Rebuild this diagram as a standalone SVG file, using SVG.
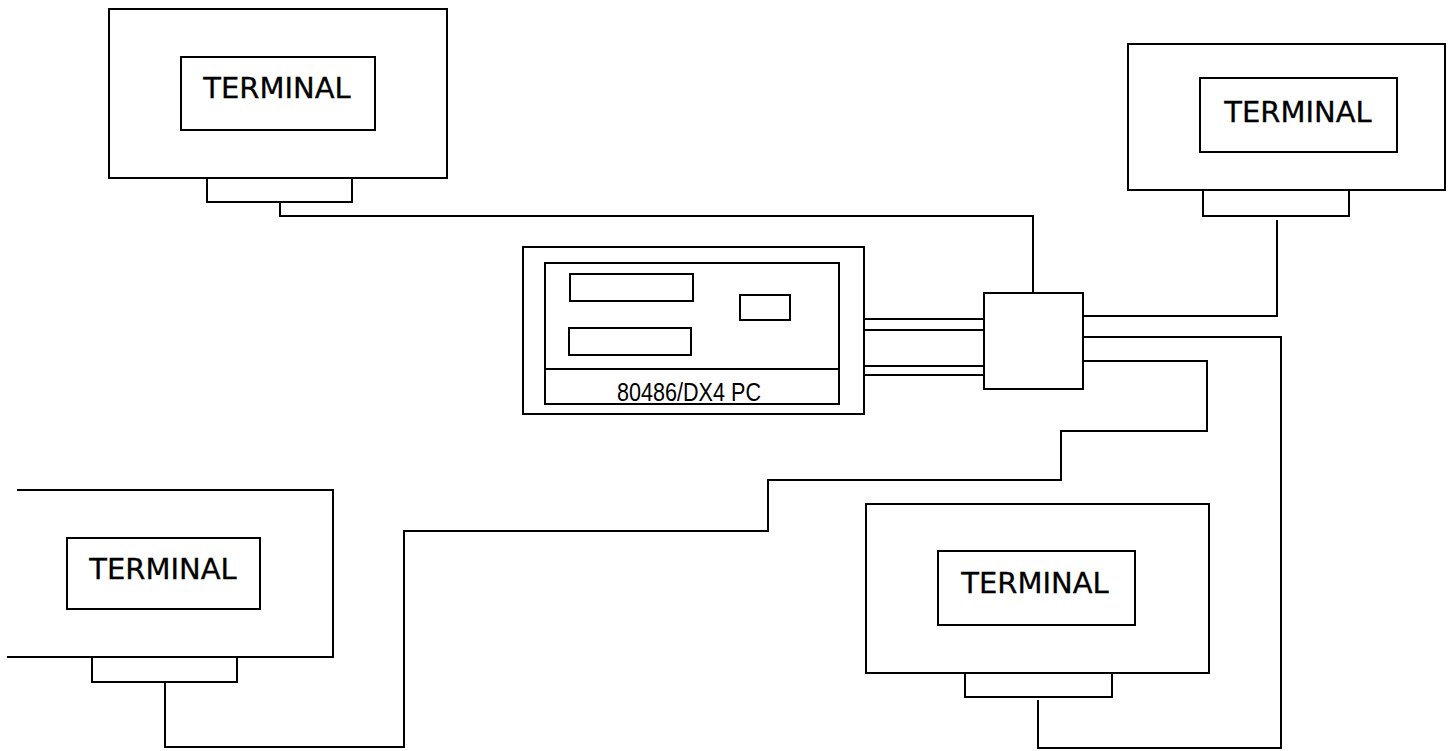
<svg xmlns="http://www.w3.org/2000/svg" width="1455" height="751" viewBox="0 0 1455 751">
<style>
.b{fill:none;stroke:#000;stroke-width:2}
.w{fill:none;stroke:#000;stroke-width:2;stroke-linejoin:miter}
.t{font-family:"DejaVu Sans",sans-serif;font-size:29px;fill:#000;stroke:#000;stroke-width:0.3;text-anchor:middle}
.p{font-family:"Liberation Sans",Arial,sans-serif;font-size:25px;fill:#000;text-anchor:middle}
</style>
<rect width="1455" height="751" fill="#fff"/>
<g id="terminal1">
<rect class="b" x="109" y="9" width="338" height="169"/>
<rect class="b" x="181" y="57" width="194" height="73"/>
<rect class="b" x="207" y="178" width="145" height="24"/>
<text class="t" x="277" y="98">TERMINAL</text>
</g>
<g id="terminal2">
<rect class="b" x="1128" y="44" width="317" height="146"/>
<rect class="b" x="1200" y="78" width="197" height="74"/>
<rect class="b" x="1203" y="190" width="146" height="26"/>
<text class="t" x="1298" y="122">TERMINAL</text>
</g>
<g id="terminal3">
<path class="b" d="M17,490 H333 V657 H7"/>
<rect class="b" x="67" y="538" width="193" height="71"/>
<rect class="b" x="92" y="657" width="145" height="25"/>
<text class="t" x="163" y="579">TERMINAL</text>
</g>
<g id="terminal4">
<rect class="b" x="866" y="504" width="343" height="169"/>
<rect class="b" x="938" y="551" width="197" height="74"/>
<rect class="b" x="965" y="673" width="147" height="24"/>
<text class="t" x="1035" y="593">TERMINAL</text>
</g>
<g id="pc">
<rect class="b" x="523" y="247" width="341" height="167"/>
<rect class="b" x="545" y="263" width="294" height="141"/>
<line class="b" x1="545" y1="369" x2="839" y2="369"/>
<rect class="b" x="570" y="274" width="123" height="27"/>
<rect class="b" x="569" y="328" width="122" height="27"/>
<rect class="b" x="740" y="295" width="50" height="25"/>
<text class="p" x="689" y="401" textLength="144" lengthAdjust="spacingAndGlyphs">80486/DX4 PC</text>
</g>
<g id="hub">
<rect class="b" x="984" y="293" width="99" height="96"/>
</g>
<g id="connectors">
<path class="w" d="M280,202 V216 H1033 V293"/>
<path class="w" d="M1277,220 V316 H1083"/>
<path class="w" d="M1083,337 H1281 V748 H1038 V700"/>
<path class="w" d="M1083,361 H1207 V431 H1061 V480 H768 V531 H404 V747 H165 V682"/>
<line class="b" x1="864" y1="319" x2="984" y2="319"/>
<line class="b" x1="864" y1="330" x2="984" y2="330"/>
<line class="b" x1="864" y1="366" x2="984" y2="366"/>
<line class="b" x1="864" y1="375" x2="984" y2="375"/>
</g>
</svg>
